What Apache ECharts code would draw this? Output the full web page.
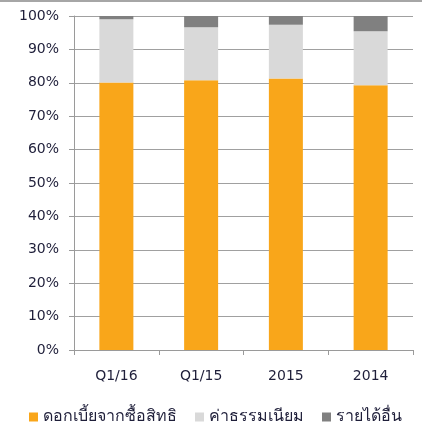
<!DOCTYPE html>
<html>
<head>
<meta charset="utf-8">
<script src="https://cdn.jsdelivr.net/npm/echarts@6/dist/echarts.min.js"></script>
<style>html,body{margin:0;padding:0;background:#fff}#c{width:422px;height:431px}</style>
</head>
<body>
<div id="c"></div>
<script>
const categories = ['Q1/16', 'Q1/15', '2015', '2014'];
const interestValues = [80.1, 80.8, 81.3, 79.3];
const feeValues = [18.9, 15.8, 16.1, 16.1];
const otherValues = [1.0, 3.4, 2.6, 4.6];
const seriesNames = ['ดอกเบี้ยจากซื้อสิทธิ', 'ค่าธรรมเนียม', 'รายได้อื่น'];

const font = "Tahoma, 'DejaVu Sans', sans-serif";
const textColor = '#1f1f3a';
const chart = echarts.init(document.getElementById('c'), null, {renderer: 'canvas'});
chart.setOption({
  animation: false,
  backgroundColor: '#fff',
  graphic: [{type: 'rect', shape: {x: 0, y: 0, width: 422, height: 2}, style: {fill: '#a6a6a6'}}],
  grid: {left: 74, right: 9, top: 16, bottom: 81},
  legend: {
    top: 404, left: 24, itemWidth: 9, itemHeight: 9, itemGap: 18,
    icon: 'rect',
    textStyle: {fontFamily: font, fontSize: 16, color: textColor},
    data: seriesNames
  },
  xAxis: {
    type: 'category', data: categories,
    axisLine: {lineStyle: {color: '#9a9a9a', width: 1}},
    axisTick: {show: true, length: 5, lineStyle: {color: '#9a9a9a'}},
    axisLabel: {fontFamily: font, fontSize: 14, color: textColor, margin: 19}
  },
  yAxis: {
    type: 'value', min: 0, max: 100, interval: 10,
    axisLine: {show: true, lineStyle: {color: '#9a9a9a'}},
    axisTick: {show: true, length: 5, lineStyle: {color: '#9a9a9a'}},
    splitLine: {lineStyle: {color: '#a0a0a0'}},
    axisLabel: {fontFamily: font, fontSize: 14, color: textColor, margin: 15, formatter: '{value}%'}
  },
  series: [
    {name: seriesNames[0], type: 'bar', stack: 's', barWidth: 34, data: interestValues, itemStyle: {color: '#f9a61a'}},
    {name: seriesNames[1], type: 'bar', stack: 's', data: feeValues, itemStyle: {color: '#d9d9d9'}},
    {name: seriesNames[2], type: 'bar', stack: 's', data: otherValues, itemStyle: {color: '#808080'}}
  ]
});
</script>
</body>
</html>
